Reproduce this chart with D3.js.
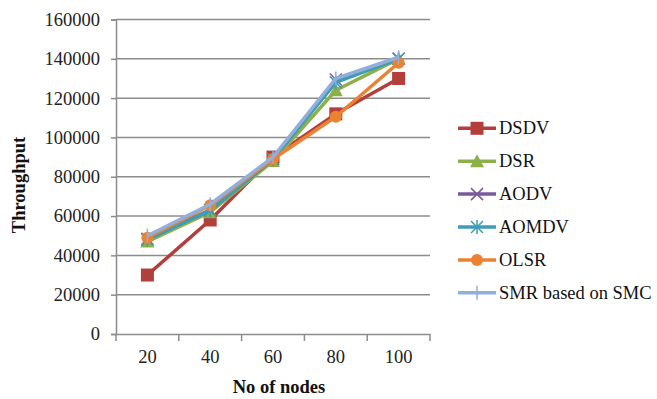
<!DOCTYPE html>
<html><head><meta charset="utf-8">
<script src="https://cdn.jsdelivr.net/npm/d3@7"></script>
<style>body{margin:0;background:#fff}svg{display:block}svg text{font-family:"Liberation Serif","Times New Roman",serif !important}</style>
</head><body><svg id="c" width="657" height="399"></svg>
<script>
const categories = ["20","40","60","80","100"];
const seriesNames = ["DSDV","DSR","AODV","AOMDV","OLSR","SMR based on SMC"];
const dsdv  = [30000, 58000, 90000, 112000, 130000];
const dsr   = [47000, 62000, 88000, 124000, 140000];
const aodv  = [48500, 63000, 89000, 129500, 140000];
const aomdv = [48000, 63000, 89000, 128000, 140000];
const olsr  = [49000, 65500, 89000, 110500, 138000];
const smr   = [50000, 66000, 90000, 130000, 140800];
const yTicks = [0,20000,40000,60000,80000,100000,120000,140000,160000];
const xTitle = "No of nodes", yTitle = "Throughput";

const seriesValues = [dsdv, dsr, aodv, aomdv, olsr, smr];
const colors = ["#B33F3C","#8DB14A","#7A5A9C","#3E9CB5","#EB8232","#92AEDB"];
const markers = ["square","triangle","x","star","circle","plus"];
const FS = 18.5;

const svg = d3.select("#c");
const L = 116, R = 430, T = 19.5, B = 334;
const x = d3.scaleBand().domain(categories).range([L, R]);
const y = d3.scaleLinear().domain([0,160000]).range([B, T]);

svg.append("g").selectAll("line").data(yTicks.filter(d=>d>0)).join("line")
  .attr("x1", L).attr("x2", R).attr("y1", d=>y(d)).attr("y2", d=>y(d))
  .attr("stroke","#8c8c8c").attr("stroke-width",1.5);

const ya = svg.append("g").attr("transform",`translate(${L},0)`)
  .call(d3.axisLeft(y).tickValues(yTicks).tickSize(5).tickPadding(11).tickFormat(d3.format("d")));
ya.attr("font-family",null).attr("font-size",null);
ya.select(".domain").attr("stroke","#8c8c8c").attr("stroke-width",1.5);
ya.selectAll(".tick line").attr("stroke","#8c8c8c").attr("stroke-width",1.5);
ya.selectAll("text").style("font-size",FS+"px").attr("fill","#222");

const xa = svg.append("g").attr("transform",`translate(0,${B})`)
  .call(d3.axisBottom(x).tickSize(0).tickPadding(16));
xa.attr("font-family",null).attr("font-size",null);
xa.select(".domain").attr("stroke","#8c8c8c").attr("stroke-width",1.5);
xa.selectAll("text").style("font-size",FS+"px").attr("fill","#222");
const bounds = categories.map(c=>x(c)).concat([R]);
xa.selectAll("line.bt").data(bounds).join("line").attr("class","bt")
  .attr("x1",d=>d).attr("x2",d=>d).attr("y1",0).attr("y2",7)
  .attr("stroke","#8c8c8c").attr("stroke-width",1.5);

svg.append("text").attr("x",279).attr("y",393).attr("text-anchor","middle")
  .attr("font-weight","bold").style("font-size",FS+"px").attr("fill","#111").text(xTitle);
svg.append("text").attr("transform","translate(25,185) rotate(-90)").attr("text-anchor","middle")
  .attr("font-weight","bold").style("font-size",FS+"px").attr("fill","#111").text(yTitle);

function drawMarker(g, type, color, cx, cy) {
  if (type==="square") g.append("rect").attr("x",cx-6.5).attr("y",cy-6.5).attr("width",13).attr("height",13).attr("fill",color);
  else if (type==="triangle") g.append("path").attr("d",`M${cx},${cy-7}L${cx+7},${cy+6}L${cx-7},${cy+6}Z`).attr("fill",color);
  else if (type==="circle") g.append("circle").attr("cx",cx).attr("cy",cy).attr("r",6).attr("fill",color);
  else if (type==="x") g.append("path").attr("d",`M${cx-6},${cy-6}L${cx+6},${cy+6}M${cx-6},${cy+6}L${cx+6},${cy-6}`).attr("stroke",color).attr("stroke-width",1.5).attr("fill","none");
  else if (type==="star") g.append("path").attr("d",`M${cx-6},${cy-6}L${cx+6},${cy+6}M${cx-6},${cy+6}L${cx+6},${cy-6}M${cx},${cy-7}L${cx},${cy+7}`).attr("stroke",color).attr("stroke-width",1.5).attr("fill","none");
  else if (type==="plus") g.append("path").attr("d",`M${cx},${cy-7}L${cx},${cy+7}`).attr("stroke",color).attr("stroke-width",1.5).attr("fill","none");
}

const line = d3.line().x((d,i)=>x(categories[i])+x.bandwidth()/2).y(d=>y(d));
seriesValues.forEach((vals, si) => {
  const g = svg.append("g");
  g.append("path").attr("d", line(vals)).attr("fill","none").attr("stroke",colors[si])
    .attr("stroke-width",3.5).attr("stroke-linejoin","round");
  vals.forEach((v,i)=>drawMarker(g, markers[si], colors[si], x(categories[i])+x.bandwidth()/2, y(v)));
});

const lg = svg.append("g");
seriesNames.forEach((n, i) => {
  const ly = 128.3 + i*32.9;
  lg.append("line").attr("x1",458).attr("x2",496).attr("y1",ly).attr("y2",ly)
    .attr("stroke",colors[i]).attr("stroke-width",3.5);
  drawMarker(lg, markers[i], colors[i], 477, ly);
  lg.append("text").attr("x",499).attr("y",ly+6).style("font-size",FS+"px").attr("fill","#111").text(n);
});
</script></body></html>
